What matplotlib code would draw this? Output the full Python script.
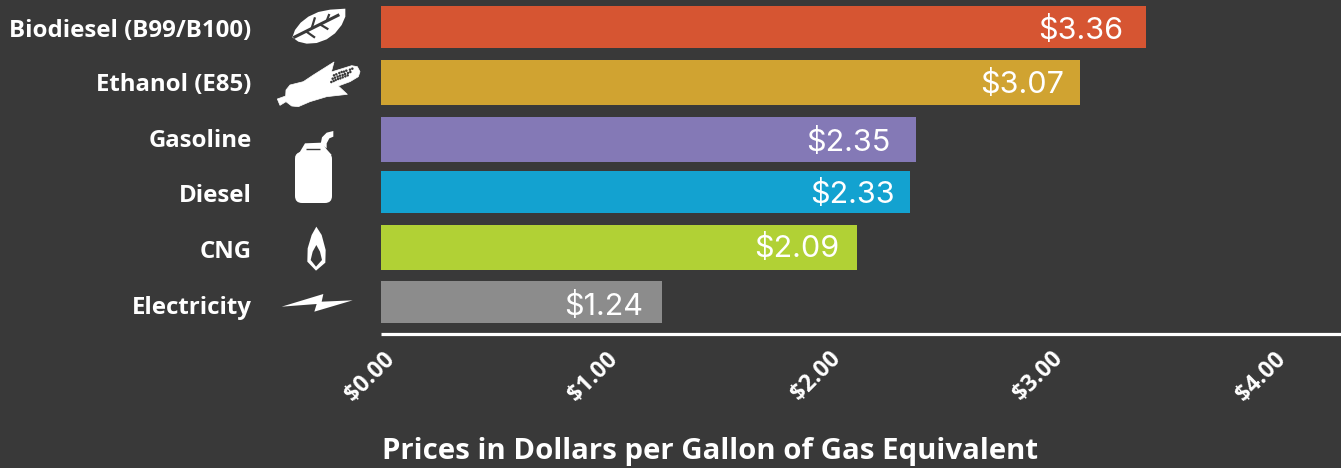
import matplotlib
matplotlib.use("Agg")
import matplotlib.pyplot as plt
from matplotlib.patches import PathPatch, Polygon, FancyBboxPatch, Circle
from matplotlib.path import Path
from matplotlib.transforms import ScaledTranslation

categories = ["Biodiesel (B99/B100)", "Ethanol (E85)", "Gasoline", "Diesel", "CNG", "Electricity"]
prices = [3.36, 3.07, 2.35, 2.325, 2.09, 1.235]
value_labels = ["$3.36", "$3.07", "$2.35", "$2.33", "$2.09", "$1.24"]
tick_values = [0, 1, 2, 3, 4]
tick_labels = ["$0.00", "$1.00", "$2.00", "$3.00", "$4.00"]
x_title = "Prices in Dollars per Gallon of Gas Equivalent"

colors = ["#D65532", "#D0A331", "#8479B6", "#13A2D0", "#B1D135", "#8C8C8C"]
BG = "#393939"
W, H = 1341, 468
row_top = [6, 60, 117, 171, 225, 281]
row_bot = [48, 105, 162, 213, 270, 323]
label_y = [27.5, 82.5, 138, 193.5, 249.5, 305.5]
value_y = [27, 82, 140, 192, 246, 303]
value_gap = [23, 16, 26, 16, 18, 19]
tick_shift = [-12, -17, -21, -27, -32]
AX_B = 333.5

fig = plt.figure(figsize=(W / 100, H / 100), dpi=100, facecolor=BG)
ax = fig.add_axes([381 / W, 1 - AX_B / H, (W - 381) / W, AX_B / H], facecolor=BG)
ax.set_xlim(0, 960 / 227.7)
ax.set_ylim(AX_B, 0)

centers = [(a + b) / 2 for a, b in zip(row_top, row_bot)]
heights = [b - a for a, b in zip(row_top, row_bot)]
ax.barh(centers, prices, height=heights, color=colors, linewidth=0)

for y, p, t, g in zip(value_y, prices, value_labels, value_gap):
    off = ScaledTranslation(-g / 100, 0, fig.dpi_scale_trans)
    ax.text(p, y, t, ha="right", va="center_baseline", color="white", fontsize=22,
            family="Inter", fontweight="normal", transform=ax.transData + off)

ax.set_yticks(label_y)
ax.set_yticklabels(categories, family="Open Sans", fontweight="bold", fontsize=17.3, color="white")
ax.tick_params(axis="y", length=0, pad=93.3)
for s in ["top", "right", "left"]:
    ax.spines[s].set_visible(False)
ax.spines["bottom"].set_color("white")
ax.spines["bottom"].set_linewidth(2.3)
ax.spines["bottom"].set_capstyle("butt")

ax.set_xticks(tick_values)
ax.set_xticklabels(tick_labels, family="Open Sans", fontweight="bold", fontsize=16.7, color="white",
                   rotation=45, ha="center", va="center", rotation_mode="anchor")
ax.tick_params(axis="x", length=0, pad=0)
for lab, dx in zip(ax.get_xticklabels(), tick_shift):
    lab.set_transform(lab.get_transform() + ScaledTranslation((dx + 1) / 100, -43 / 100, fig.dpi_scale_trans))

fig.text(382.5 / W, 1 - 451 / H, x_title, family="Open Sans", fontweight="bold", fontsize=21.2,
         color="white", ha="left", va="center")

# icon overlay in pixel coordinates
ov = fig.add_axes([0, 0, 1, 1], facecolor="none")
ov.set_xlim(0, W)
ov.set_ylim(H, 0)
ov.axis("off")


def z(points, x0, y0):
    return [(x0 + a / 3, y0 + b / 3) for a, b in points]


def poly(points, color="white", lw=0, **kw):
    ov.add_patch(Polygon(points, closed=True, fc=color, ec=color, lw=lw, joinstyle="round", **kw))


def line(points, color=BG, lw=1.6):
    xs, ys = zip(*points)
    ov.plot(xs, ys, color=color, lw=lw, solid_capstyle="butt")


# leaf
poly(z([(67, 112), (75, 90), (92, 68), (115, 50), (145, 36), (180, 29), (226, 26), (226, 50), (215, 75),
        (195, 100), (170, 118), (140, 129), (110, 131), (85, 125)], 270, 0))
line(z([(70, 113), (208, 44)], 270, 0), lw=2.2)
line(z([(125, 85), (135, 52)], 270, 0))
line(z([(170, 63), (178, 42)], 270, 0))
line(z([(108, 94), (135, 113)], 270, 0))
line(z([(150, 73), (175, 88)], 270, 0))

# corn
poly(z([(22, 297), (47, 288), (48, 270), (60, 255), (100, 245), (130, 225), (192, 186), (184, 216),
        (245, 197), (262, 200), (270, 215), (265, 230), (240, 245), (205, 258), (232, 283), (170, 290),
        (120, 305), (85, 320), (65, 318), (48, 305), (30, 316)], 270, 0), lw=0.5)
dot_rows = [
    [(192, 226), (208, 219), (222, 215), (240, 209)],
    [(188, 236), (203, 230), (218, 225), (234, 219)],
    [(184, 246), (197, 240), (211, 235), (226, 229)],
]
for row in dot_rows:
    for a, b in row:
        ov.add_patch(Circle((270 + a / 3, b / 3), 1.25, fc=BG, ec="none"))
        ov.add_patch(Circle((270 + (a + 7) / 3, (b - 3) / 3), 1.25, fc=BG, ec="none"))

# gas can
ov.add_patch(FancyBboxPatch((299, 156), 29, 43, boxstyle="round,pad=4,rounding_size=7", fc="white", ec="none"))
poly(z([(90, 95), (105, 70), (155, 68), (170, 88), (185, 105), (75, 110)], 270, 120))
line(z([(108, 88), (150, 88)], 270, 120), lw=1.0)
poly(z([(152, 72), (156, 52), (170, 38), (190, 33), (190, 50), (178, 55), (170, 70), (170, 85)], 270, 120))

# flame (outer with hole)
verts = z([(139, 320), (125, 345), (113, 385), (112, 425), (138, 452), (166, 428), (167, 390), (155, 345), (139, 320)], 270, 120)
hole = z([(139, 375), (150, 395), (156, 420), (138, 440), (122, 420), (128, 395), (139, 375)], 270, 120)
codes = [Path.MOVETO] + [Path.LINETO] * (len(verts) - 2) + [Path.CLOSEPOLY]
hcodes = [Path.MOVETO] + [Path.LINETO] * (len(hole) - 2) + [Path.CLOSEPOLY]
ov.add_patch(PathPatch(Path(verts + hole, codes + hcodes), fc="white", ec="none"))

# bolt
poly(z([(35, 560), (160, 522), (155, 545), (248, 541), (133, 575), (140, 552)], 270, 120))

fig.savefig("out.png", dpi=100, facecolor=BG)
